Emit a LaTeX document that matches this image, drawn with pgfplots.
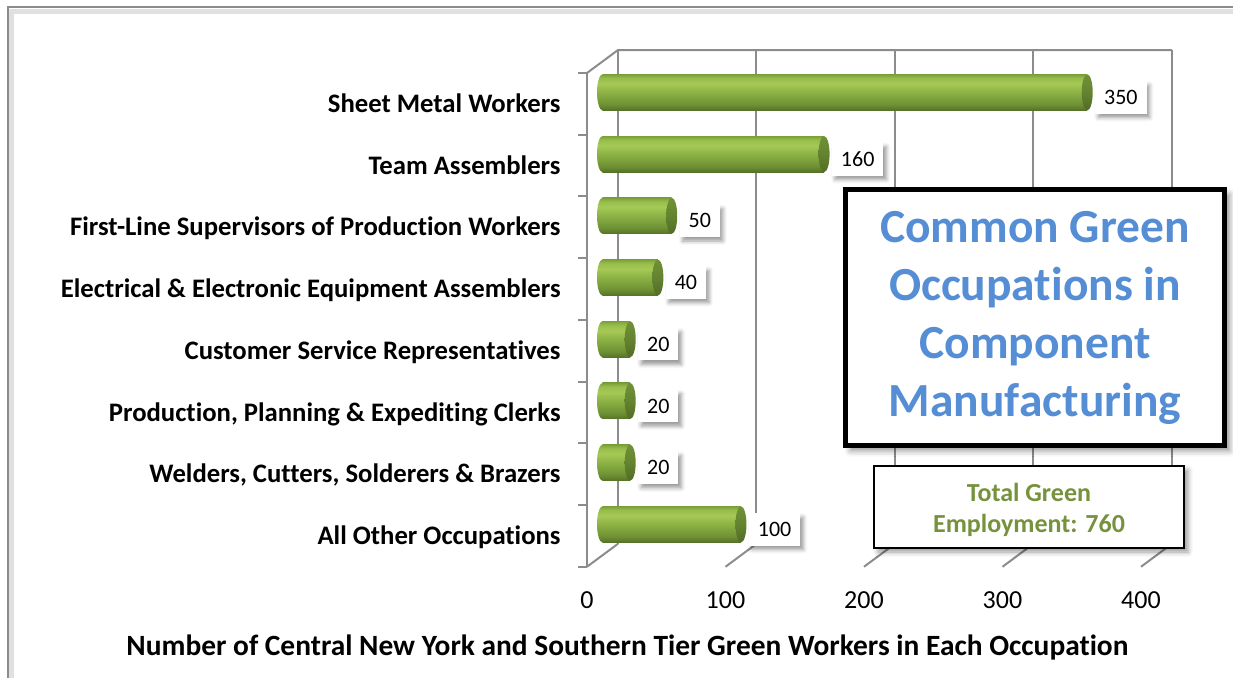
\documentclass[border=0pt]{standalone}
\usepackage{pgfplots}
\usepackage{pgfplotstable}
\pgfplotsset{compat=1.18}
\usepackage{fontspec}
\setmainfont{Carlito}[Ligatures=NoCommon]
\usetikzlibrary{shadows.blur}

\definecolor{gridgray}{RGB}{140,140,140}
\definecolor{titleblue}{RGB}{85,142,213}
\definecolor{totalgreen}{RGB}{118,146,60}
\definecolor{bz}{RGB}{86,113,40}
\definecolor{bo}{RGB}{110,144,52}
\definecolor{bt}{RGB}{140,178,68}
\definecolor{bh}{RGB}{166,201,86}
\definecolor{bf}{RGB}{152,189,76}
\definecolor{bs}{RGB}{122,160,56}
\definecolor{cz}{RGB}{82,108,38}
\definecolor{co}{RGB}{100,131,48}
\definecolor{ct}{RGB}{112,145,55}

\pgfdeclareverticalshading{barshade}{100bp}{color(0bp)=(bz); color(25bp)=(bz); color(33bp)=(bo); color(50bp)=(bt); color(62bp)=(bh); color(70bp)=(bf); color(75bp)=(bs); color(100bp)=(bs)}
\pgfdeclareverticalshading{capshade}{100bp}{color(0bp)=(cz); color(25bp)=(cz); color(50bp)=(co); color(75bp)=(ct); color(100bp)=(ct)}

\pgfdeclareplotmark{rcap}{%
  \pgfpathellipse{\pgfpointorigin}{\pgfqpoint{2.75pt}{0pt}}{\pgfqpoint{0pt}{9pt}}%
  \pgfshadepath{capshade}{0}\pgfusepath{discard}}
\pgfdeclareplotmark{lcap}{%
  \pgfpathellipse{\pgfpointorigin}{\pgfqpoint{2.75pt}{0pt}}{\pgfqpoint{0pt}{9pt}}%
  \pgfshadepath{barshade}{0}\pgfusepath{discard}}

\pgfplotstableread{
v i z
350 0 0
160 1 0
50 2 0
40 3 0
20 4 0
20 5 0
20 6 0
100 7 0
}\datatable

\begin{document}
\begin{tikzpicture}[gridline/.style={draw=gridgray, line width=1pt}]
\useasboundingbox (-293.5pt,-55.125pt) rectangle (323pt,283.375pt);
% outer chart frame
\draw[black!12, line width=2.5pt] (-287.5pt,-70pt) -- (-287.5pt,277.875pt) -- (340pt,277.875pt);
\draw[black!45, line width=1pt] (-289.5pt,-70pt) -- (-289.5pt,279.875pt) -- (340pt,279.875pt);

\begin{axis}[
  at={(0pt,0pt)}, anchor=south west,
  scale only axis, width=277pt, height=246.875pt,
  xmin=0, xmax=400, ymin=-0.5, ymax=7.5,
  y dir=reverse, clip=false,
  axis x line*=bottom, axis y line*=left,
  x axis line style={draw=none},
  y axis line style={draw=gridgray, line width=1pt, -},
  xtick={0,100,...,400},
  ytick={0,...,7},
  yticklabels={Sheet Metal Workers, Team Assemblers, First-Line Supervisors of Production Workers, Electrical \& Electronic Equipment Assemblers, Customer Service Representatives, {Production, Planning \& Expediting Clerks}, {Welders, Cutters, Solderers \& Brazers}, All Other Occupations},
  major tick length=0pt,
  minor ytick={-0.5,0.5,...,7.5},
  minor tick length=4.5pt,
  tick align=outside,
  major tick style={draw=none},
  minor tick style={draw=gridgray, line width=1pt},
  yticklabel style={anchor=base east, inner sep=0pt, xshift=-13pt, yshift=-4.3pt, font=\bfseries\fontsize{13.35}{15}\selectfont},
  xticklabel style={anchor=base, inner sep=0pt, yshift=-21.1pt, font=\fontsize{13}{15}\selectfont},
  /pgf/number format/assume math mode=true,
]
\pgfplotsinvokeforeach{0,100,200,300,400}{
  \draw[gridline] ([xshift=15.5pt,yshift=11.5pt]axis cs:#1,7.5) -- ([xshift=15.5pt,yshift=11.5pt]axis cs:#1,-0.5) -- ++(0,4pt);
  \draw[gridline] (axis cs:#1,7.5) -- ([xshift=15.5pt,yshift=11.5pt]axis cs:#1,7.5);
}
\draw[gridline] (axis cs:0,-0.5) -- ([xshift=15.5pt,yshift=11.5pt]axis cs:0,-0.5) -- ([xshift=15.5pt,yshift=11.5pt]axis cs:400,-0.5);
\end{axis}

\begin{axis}[
  at={(7.75pt,5.75pt)}, anchor=south west,
  scale only axis, width=277pt, height=246.875pt,
  xmin=0, xmax=400, ymin=-0.5, ymax=7.5,
  y dir=reverse, clip=false, hide axis,
  cyl/.style={xbar, bar shift=0pt, bar width=18pt, draw=none, shading=barshade,
    nodes near coords,
    nodes near coords style={anchor=west, xshift=3.75pt, yshift=-2.5pt, fill=white, text=black,
      inner xsep=4.5pt, inner ysep=4.5pt, font=\fontsize{11}{13}\selectfont,
      /pgf/number format/assume math mode=true,
      blur shadow={shadow xshift=1.5pt, shadow yshift=-2pt, shadow blur radius=2pt, shadow opacity=40}}},
]
\addplot[cyl] coordinates {(350,0)};
\addplot[cyl] coordinates {(160,1)};
\addplot[cyl] coordinates {(50,2)};
\addplot[cyl] coordinates {(40,3)};
\addplot[cyl] coordinates {(20,4)};
\addplot[cyl] coordinates {(20,5)};
\addplot[cyl] coordinates {(20,6)};
\addplot[cyl] coordinates {(100,7)};
\addplot[only marks, mark=lcap] table[x=z, y=i] {\datatable};
\addplot[only marks, mark=rcap] table[x=v, y=i] {\datatable};
\end{axis}

% title box
\node[draw=black, line width=2.5pt, fill=white, minimum width=189.5pt, minimum height=128pt,
  inner sep=0pt, align=center, text=titleblue,
  font=\bfseries\fontsize{23.75}{29}\selectfont,
  blur shadow={shadow xshift=2.5pt, shadow yshift=-2.5pt, shadow blur radius=3pt, shadow opacity=45}]
  at (224pt,124.6pt) {Common Green\\Occupations in\\Component\\Manufacturing};
% total box
\node[draw=black, line width=1pt, fill=white, minimum width=155pt, minimum height=41pt,
  inner sep=0pt,
  blur shadow={shadow xshift=2pt, shadow yshift=-2pt, shadow blur radius=2.5pt, shadow opacity=40}]
  at (221pt,29.875pt) {};
\node[inner sep=0pt, align=center, text=totalgreen, font=\bfseries\fontsize{13}{15.5}\selectfont]
  at (221pt,28.4pt) {Total Green\\Employment: 760};
% axis title
\node[anchor=base, inner sep=0pt, font=\bfseries\fontsize{14.7}{17}\selectfont] at (20.25pt,-44.3pt)
  {Number of Central New York and Southern Tier Green Workers in Each Occupation};
\end{tikzpicture}
\end{document}
